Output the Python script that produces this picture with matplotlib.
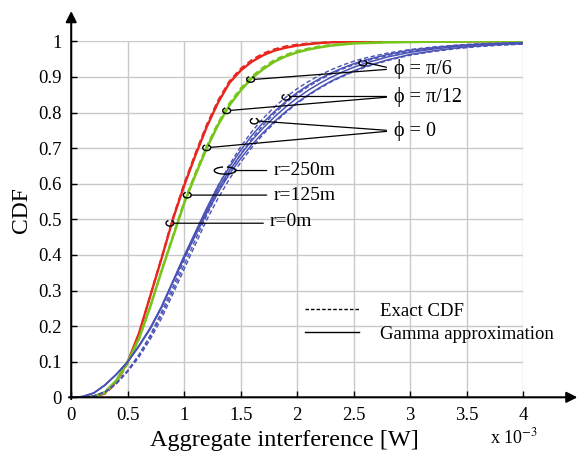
import numpy as np
import matplotlib
matplotlib.use("Agg")
import matplotlib.pyplot as plt
from matplotlib.patches import Arc
from matplotlib.lines import Line2D

plt.rcParams['font.family'] = ['Liberation Serif', 'DejaVu Serif']
plt.rcParams['mathtext.fontset'] = 'stix'

# ---------------- data ----------------
x_vals = [0, .1, .2, .3, .4, .5, .6, .7, .8, .9, 1.0, 1.1, 1.2, 1.3, 1.4, 1.5, 1.6, 1.7,
          1.8, 1.9, 2.0, 2.1, 2.2, 2.3, 2.4, 2.5, 2.6, 2.8, 3.0, 3.2, 3.4, 3.6, 3.8, 4.0]

# r = 0 m (red)
red_gamma = [0, 0, .002, .013, .045, .100, .180, .285, .390, .500, .595, .680, .760, .828, .883,
             .918, .943, .961, .974, .982, .988, .992, .995, .997, .998, .999, .999, 1, 1, 1, 1, 1, 1, 1]
red_exact = [0, 0, .001, .010, .040, .096, .178, .286, .393, .504, .600, .686, .766, .834, .888,
             .923, .948, .966, .978, .986, .991, .994, .996, .998, .999, 1, 1, 1, 1, 1, 1, 1, 1, 1]

# r = 125 m (green)
green_gamma = [0, 0, .002, .015, .048, .100, .165, .255, .355, .450, .545, .625, .700, .765, .820,
               .862, .897, .922, .943, .958, .969, .977, .983, .988, .991, .994, .995, .997, .998,
               .999, .999, 1, 1, 1]
green_exact = [0, 0, .001, .012, .043, .096, .163, .255, .357, .454, .550, .631, .706, .771, .826,
               .868, .902, .927, .948, .962, .973, .980, .986, .990, .993, .995, .996, .998, .999,
               .999, 1, 1, 1, 1]

# r = 250 m (blue), three azimuths phi = 0, pi/12, pi/6
blue_gamma_phi0 = [0, .002, .012, .035, .065, .100, .145, .195, .255, .326, .398, .465, .532, .594,
                   .647, .694, .736, .772, .803, .831, .856, .877, .895, .911, .925, .937, .947,
                   .963, .975, .982, .988, .992, .994, .996]
blue_gamma_phi12 = [0, .002, .012, .035, .065, .100, .145, .195, .255, .325, .395, .460, .525, .585,
                    .637, .682, .722, .757, .788, .816, .841, .863, .882, .899, .914, .927, .938,
                    .956, .969, .978, .985, .990, .993, .995]
blue_gamma_phi6 = [0, .002, .012, .034, .064, .099, .143, .192, .252, .323, .392, .455, .518, .576,
                   .627, .671, .710, .744, .775, .803, .828, .850, .870, .888, .903, .917, .929,
                   .948, .963, .973, .981, .987, .991, .993]
blue_exact_phi0 = [0, 0, .004, .015, .040, .075, .120, .175, .240, .310, .385, .458, .528, .594,
                   .653, .704, .747, .784, .816, .843, .867, .887, .905, .920, .933, .944, .953,
                   .967, .977, .984, .989, .993, .995, .996]
blue_exact_phi12 = [0, 0, .004, .015, .040, .075, .118, .170, .232, .300, .372, .443, .512, .576,
                    .633, .683, .727, .765, .798, .827, .852, .873, .892, .908, .922, .934, .944,
                    .960, .972, .980, .986, .990, .993, .995]
blue_exact_phi6 = [0, 0, .004, .014, .038, .072, .113, .163, .222, .290, .360, .430, .499, .559,
                   .613, .660, .702, .739, .771, .800, .826, .848, .868, .886, .901, .915, .927,
                   .946, .961, .971, .979, .985, .989, .992]

x_ticks = [0, 0.5, 1, 1.5, 2, 2.5, 3, 3.5, 4]
x_tick_labels = ['0', '0.5', '1', '1.5', '2', '2.5', '3', '3.5', '4']
y_ticks = [0, .1, .2, .3, .4, .5, .6, .7, .8, .9, 1]
y_tick_labels = ['0', '0.1', '0.2', '0.3', '0.4', '0.5', '0.6', '0.7', '0.8', '0.9', '1']

# ---------------- figure ----------------
W, H = 577, 458
fig = plt.figure(figsize=(W / 100, H / 100), dpi=100)
x0px, x4px = 71.2, 523.2
y0px, y1px = 397.3, 41.3
ax = fig.add_axes([x0px / W, 1 - y0px / H, (x4px - x0px) / W, (y0px - y1px) / H])
ax.set_xlim(0, 4)
ax.set_ylim(0, 1)

RED = '#e8261e'
GREEN = '#77c51b'
BLUE = '#4a52b6'
dash = (0, (3.2, 1.8))

ax.plot(x_vals, red_exact, color=RED, lw=1.4, ls=dash, zorder=3)
ax.plot(x_vals, red_gamma, color=RED, lw=1.7, zorder=3)
ax.plot(x_vals, green_exact, color=GREEN, lw=1.4, ls=dash, zorder=3)
ax.plot(x_vals, green_gamma, color=GREEN, lw=1.8, zorder=3)
for ys in (blue_exact_phi0, blue_exact_phi12, blue_exact_phi6):
    ax.plot(x_vals, ys, color=BLUE, lw=1.0, ls=dash, zorder=3)
for ys in (blue_gamma_phi0, blue_gamma_phi12, blue_gamma_phi6):
    ax.plot(x_vals, ys, color=BLUE, lw=1.1, zorder=3)

# grid & ticks
ax.set_xticks(x_ticks)
ax.set_xticklabels(x_tick_labels)
ax.set_yticks(y_ticks)
ax.set_yticklabels(y_tick_labels)
ax.grid(True, color='#c9c9c9', lw=1.0, zorder=0)
ax.tick_params(direction='in', length=4, width=1, labelsize=13.5, pad=7)
for s in ax.spines.values():
    s.set_visible(False)

# axis arrows
ax.annotate('', xy=(4.48, 0), xytext=(-0.02, 0), xycoords='data',
            arrowprops=dict(arrowstyle='-|>', lw=1.5, color='k', mutation_scale=16,
                            shrinkA=0, shrinkB=0), annotation_clip=False, zorder=5)
ax.annotate('', xy=(0, 1.085), xytext=(0, -0.005), xycoords='data',
            arrowprops=dict(arrowstyle='-|>', lw=1.5, color='k', mutation_scale=16,
                            shrinkA=0, shrinkB=0), annotation_clip=False, zorder=5)

# labels
ax.set_xlabel('Aggregate interference [W]', fontsize=17.5)
ax.xaxis.set_label_coords((284 - x0px) / (x4px - x0px), -0.092)
ax.set_ylabel('CDF', fontsize=17)
ax.yaxis.set_label_coords(-0.087, 0.526)
ax.text(3.92, -0.114, r'x 10$^{-3}$', fontsize=13, ha='center', va='center')

# markers (small open ellipses) and leader lines
def mark(x, y, w=0.07, h=0.016):
    ax.add_patch(Arc((x, y), w, h, theta1=150, theta2=390, color='k', lw=1.0, zorder=6))

def leader(x_from, y_from, x_to, y_to):
    ax.annotate('', xy=(x_to, y_to), xytext=(x_from, y_from),
                arrowprops=dict(arrowstyle='-', lw=0.9, color='k', shrinkA=0, shrinkB=0),
                zorder=6)

# phi annotations
lx = 2.79
mark(1.588, 0.893); mark(2.582, 0.939)
leader(lx, 0.921, 1.62, 0.893); leader(lx, 0.927, 2.61, 0.940)
ax.text(2.86, 0.923, 'ϕ = π/6', fontsize=14.5, va='center', ha='left')

mark(1.376, 0.805); mark(1.901, 0.843)
leader(lx, 0.843, 1.41, 0.806); leader(lx, 0.845, 1.935, 0.845)
ax.text(2.86, 0.844, 'ϕ = π/12', fontsize=14.5, va='center', ha='left')

mark(1.199, 0.701); mark(1.620, 0.776)
leader(lx, 0.747, 1.233, 0.702); leader(lx, 0.750, 1.655, 0.776)
ax.text(2.86, 0.749, 'ϕ = 0', fontsize=14.5, va='center', ha='left')

# r annotations
mark(1.361, 0.637, w=0.19, h=0.02)
leader(1.456, 0.637, 1.73, 0.637)
ax.text(1.79, 0.637, 'r=250m', fontsize=14, va='center', ha='left')
mark(1.027, 0.568)
leader(1.062, 0.568, 1.73, 0.568)
ax.text(1.79, 0.568, 'r=125m', fontsize=14, va='center', ha='left')
mark(0.874, 0.489)
leader(0.909, 0.489, 1.70, 0.489)
ax.text(1.76, 0.493, 'r=0m', fontsize=14, va='center', ha='left')

# legend
handles = [Line2D([], [], color='k', lw=1.0, ls=(0, (2.5, 1.5))),
           Line2D([], [], color='k', lw=1.0)]
leg = ax.legend(handles, ['Exact CDF', 'Gamma approximation'], loc='upper left',
                bbox_to_anchor=(0.48, 0.313), frameon=False, fontsize=13.5,
                handlelength=2.9, handletextpad=1.1, labelspacing=0.3)

fig.savefig('out.png', dpi=100)
